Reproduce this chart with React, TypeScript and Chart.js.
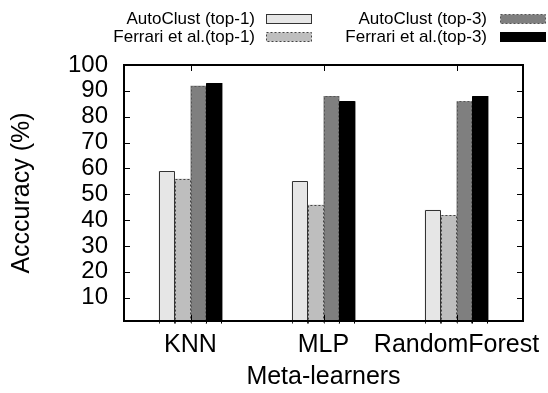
import React, { useEffect, useRef } from "react";
import { Chart, registerables } from "chart.js";

Chart.register(...registerables);

const categories = ["KNN", "MLP", "RandomForest"];
const seriesNames = [
  "AutoClust (top-1)",
  "Ferrari et al.(top-1)",
  "AutoClust (top-3)",
  "Ferrari et al.(top-3)",
];
const autoClustTop1 = [59, 55, 44];
const ferrariTop1 = [56, 46, 42];
const autoClustTop3 = [92, 88, 86];
const ferrariTop3 = [93, 86, 88];
const yTickValues = [10, 20, 30, 40, 50, 60, 70, 80, 90, 100];

const fillColors = ["#e6e6e6", "#bebebe", "#7f7f7f", "#000000"];
const edgeColors = ["#333333", "#444444", "#555555", "#000000"];
const edgeDash: number[][] = [[], [2, 2], [2, 2], []];

const FONT = "'Liberation Sans', Arial, Helvetica, sans-serif";

const framePlugin = {
  id: "gnuFrame",
  afterDatasetsDraw(chart: any) {
    const ctx = chart.ctx;
    chart.data.datasets.forEach((ds: any, di: number) => {
      const meta = chart.getDatasetMeta(di);
      ctx.save();
      ctx.strokeStyle = edgeColors[di];
      ctx.lineWidth = 1;
      ctx.setLineDash(edgeDash[di]);
      meta.data.forEach((el: any) => {
        const { x, y, base, width } = el.getProps(["x", "y", "base", "width"], true);
        const l = Math.round(x - width / 2) + 0.5;
        const r = Math.round(x + width / 2) - 0.5;
        const t = Math.round(y) + 0.5;
        ctx.beginPath();
        ctx.moveTo(l, base);
        ctx.lineTo(l, t);
        ctx.lineTo(r, t);
        ctx.lineTo(r, base);
        ctx.stroke();
      });
      ctx.restore();
    });
  },
  afterDraw(chart: any) {
    const ctx = chart.ctx;
    const { left, right, top, bottom } = chart.chartArea;
    const ys = chart.scales.y;
    const xs = chart.scales.x;
    ctx.save();
    ctx.strokeStyle = "#000";
    ctx.lineWidth = 1;
    ctx.setLineDash([]);
    const tl = 6;
    ys.ticks.forEach((t: any) => {
      const py = Math.round(ys.getPixelForValue(t.value)) + 0.5;
      ctx.beginPath();
      ctx.moveTo(left, py);
      ctx.lineTo(left + tl, py);
      ctx.moveTo(right, py);
      ctx.lineTo(right - tl, py);
      ctx.stroke();
    });
    categories.forEach((_, i) => {
      const px = Math.round(xs.getPixelForValue(i)) + 0.5;
      ctx.beginPath();
      ctx.moveTo(px, top);
      ctx.lineTo(px, top + tl);
      ctx.moveTo(px, bottom);
      ctx.lineTo(px, bottom - tl);
      ctx.stroke();
    });
    ctx.lineWidth = 2;
    ctx.strokeRect(left, top, right - left, bottom - top);
    ctx.restore();

    // legend
    ctx.save();
    ctx.font = `17px ${FONT}`;
    ctx.textAlign = "right";
    ctx.textBaseline = "middle";
    const cols = [
      { textX: 255, boxX: 266 },
      { textX: 487, boxX: 500 },
    ];
    const rows = [18, 36];
    const boxW = 45;
    const boxH = 9;
    chart.data.datasets.forEach((ds: any, i: number) => {
      const col = cols[Math.floor(i / 2)];
      const ry = rows[i % 2];
      ctx.fillStyle = "#000";
      ctx.setLineDash([]);
      ctx.fillText(ds.label, col.textX, ry + 1);
      const by = Math.round(ry - boxH / 2) + 0.5;
      ctx.fillStyle = fillColors[i];
      ctx.fillRect(col.boxX + 0.5, by, boxW, boxH);
      ctx.strokeStyle = edgeColors[i];
      ctx.lineWidth = 1;
      ctx.setLineDash(edgeDash[i]);
      ctx.strokeRect(col.boxX + 0.5, by, boxW, boxH);
    });
    ctx.restore();
  },
};

export default function App() {
  const ref = useRef<HTMLCanvasElement>(null);
  useEffect(() => {
    document.body.style.margin = "0";
    const values = [autoClustTop1, ferrariTop1, autoClustTop3, ferrariTop3];
    const chart = new Chart(ref.current as HTMLCanvasElement, {
      type: "bar",
      data: {
        labels: categories,
        datasets: values.map((v, i) => ({
          label: seriesNames[i],
          data: v,
          backgroundColor: fillColors[i],
          borderWidth: 0,
          categoryPercentage: 0.48,
          barPercentage: 1,
        })),
      },
      options: {
        animation: false,
        responsive: false,
        maintainAspectRatio: false,
        layout: { padding: { top: 65, right: 25, left: 0, bottom: 0 } },
        plugins: { legend: { display: false }, tooltip: { enabled: false } },
        scales: {
          x: {
            offset: true,
            grid: { display: false, drawTicks: false },
            border: { display: false },
            ticks: {
              color: "#000",
              padding: 9,
              font: { family: FONT, size: 25 },
              maxRotation: 0,
              autoSkip: false,
            },
            title: {
              display: true,
              text: "Meta-learners",
              color: "#000",
              font: { family: FONT, size: 25 },
              padding: { top: 0, bottom: 1 },
            },
            afterFit(scale: any) {
              scale.height = 72;
              scale.paddingLeft = 0;
              scale.paddingRight = 0;
            },
          },
          y: {
            min: 1,
            max: 100,
            grid: { display: false, drawTicks: false },
            border: { display: false },
            afterBuildTicks(scale: any) {
              scale.ticks = yTickValues.map((v) => ({ value: v }));
            },
            ticks: {
              color: "#000",
              padding: 16,
              autoSkip: false,
              font: { family: FONT, size: 24 },
            },
            title: {
              display: true,
              text: "Acccuracy (%)",
              color: "#000",
              font: { family: FONT, size: 25 },
              padding: { top: 7, bottom: 0 },
            },
            afterFit(scale: any) {
              scale.width = 124;
              scale.paddingTop = 0;
              scale.paddingBottom = 0;
            },
          },
        },
      },
      plugins: [framePlugin],
    });
    return () => chart.destroy();
  }, []);
  return (
    <div style={{ width: 548, height: 393, background: "#fff" }}>
      <canvas ref={ref} width={548} height={393} style={{ display: "block" }} />
    </div>
  );
}
